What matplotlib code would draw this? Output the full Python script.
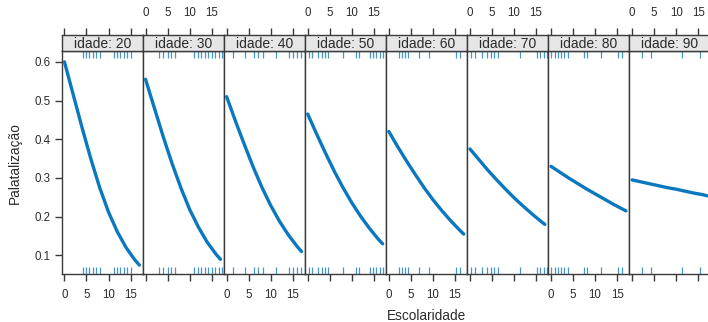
import matplotlib
matplotlib.use("Agg")
import matplotlib.pyplot as plt
import matplotlib.transforms as mtransforms

plt.rcParams['font.family'] = ['Liberation Sans', 'DejaVu Sans']

# ---------------- data ----------------
ages = [20, 30, 40, 50, 60, 70, 80, 90]
escol = [0, 2, 4, 6, 8, 10, 12, 14, 16, 17]
pal_20 = [0.600, 0.515, 0.430, 0.349, 0.275, 0.212, 0.161, 0.120, 0.088, 0.075]
pal_30 = [0.555, 0.481, 0.407, 0.338, 0.275, 0.219, 0.173, 0.134, 0.103, 0.090]
pal_40 = [0.510, 0.447, 0.387, 0.329, 0.276, 0.229, 0.188, 0.153, 0.123, 0.110]
pal_50 = [0.465, 0.414, 0.365, 0.318, 0.275, 0.236, 0.201, 0.170, 0.142, 0.130]
pal_60 = [0.420, 0.381, 0.344, 0.309, 0.275, 0.244, 0.216, 0.190, 0.166, 0.155]
pal_70 = [0.375, 0.348, 0.321, 0.296, 0.272, 0.249, 0.228, 0.208, 0.189, 0.180]
pal_80 = [0.330, 0.315, 0.300, 0.286, 0.272, 0.259, 0.246, 0.233, 0.221, 0.215]
pal_90 = [0.295, 0.290, 0.285, 0.280, 0.275, 0.271, 0.266, 0.261, 0.257, 0.254]
curves = [pal_20, pal_30, pal_40, pal_50, pal_60, pal_70, pal_80, pal_90]

rug_20 = [4.1, 4.9, 5.6, 6.4, 7.1, 8.0, 11.2, 12.0, 12.7, 13.5, 14.2, 15.0]
rug_30 = [3.1, 3.9, 5.0, 5.8, 6.6, 11.1, 11.9, 12.6, 13.4, 14.2, 15.0, 15.8, 16.6, 17.4]
rug_40 = [1.4, 4.2, 6.1, 7.2, 8.2, 11.2, 14.2, 15.1, 16.0, 16.9]
rug_50 = [0.2, 0.9, 2.4, 3.2, 3.9, 4.7, 8.0, 10.9, 11.7, 14.1, 14.8, 15.6, 16.3, 17.1]
rug_60 = [2.2, 2.9, 3.7, 4.4, 6.9, 9.2, 15.2, 16.1]
rug_70 = [0.3, 1.2, 2.8, 3.8, 4.7, 5.5, 6.3, 11.3, 15.2, 16.0, 16.8, 17.4]
rug_80 = [0.0, 0.8, 1.5, 2.3, 3.0, 3.8, 7.4, 8.2, 11.4, 15.1, 16.0]
rug_90 = [2.3, 4.3, 11.4, 15.3]
rugs = [rug_20, rug_30, rug_40, rug_50, rug_60, rug_70, rug_80, rug_90]

xticks = [0, 5, 10, 15]
yticks = [0.1, 0.2, 0.3, 0.4, 0.5, 0.6]
ytick_labels = ["0.1", "0.2", "0.3", "0.4", "0.5", "0.6"]

# ---------------- layout ----------------
W, H = 708, 322
fig = plt.figure(figsize=(W / 100, H / 100), dpi=100)

def rect(x0, y0, x1, y1):
    return [x0 / W, 1 - y1 / H, (x1 - x0) / W, (y1 - y0) / H]

frame_col = '#3a3a3a'
text_col = '#2b2b2b'
line_col = '#0a78bf'
rug_col = '#4a95c2'
strip_col = '#e6e6e6'

left0 = 61.7
pw = 81.1
p_top, p_bot = 51.0, 274.0
s_top = 34.5
xlim = (-0.62, 17.78)
ylim = (0.052, 0.628)

for i, age in enumerate(ages):
    x0 = left0 + i * pw
    x1 = x0 + pw
    ax = fig.add_axes(rect(x0, p_top, x1, p_bot))
    ax.set_xlim(*xlim)
    ax.set_ylim(*ylim)
    ax.plot(escol, curves[i], color=line_col, lw=2.4, solid_capstyle='round', zorder=3)
    trans = mtransforms.blended_transform_factory(ax.transData, ax.transAxes)
    rl = 7.0 / (p_bot - p_top)
    ax.vlines(rugs[i], 1 - rl, 1, transform=trans, color=rug_col, lw=0.9)
    ax.vlines(rugs[i], 0, rl, transform=trans, color=rug_col, lw=0.9)
    for sp in ax.spines.values():
        sp.set_color(frame_col)
        sp.set_linewidth(1.0)
    ax.set_xticks(xticks)
    ax.tick_params(axis='x', direction='out', length=5, width=1, color=frame_col,
                   labelsize=8.3, labelcolor=text_col, pad=6)
    if i % 2 == 0:
        ax.set_xticklabels([str(t) for t in xticks])
    else:
        ax.set_xticklabels([])
    if i == 0:
        ax.set_yticks(yticks)
        ax.set_yticklabels(ytick_labels)
        ax.tick_params(axis='y', direction='out', length=5, width=1, color=frame_col,
                       labelsize=8.3, labelcolor=text_col, pad=3)
    else:
        ax.set_yticks([])

    # strip
    sa = fig.add_axes(rect(x0, s_top, x1, p_top))
    sa.set_facecolor(strip_col)
    sa.set_xlim(*xlim)
    sa.set_ylim(0, 1)
    sa.set_yticks([])
    for sp in sa.spines.values():
        sp.set_color(frame_col)
        sp.set_linewidth(1.0)
    sa.xaxis.tick_top()
    sa.set_xticks(xticks)
    sa.tick_params(axis='x', direction='out', length=5, width=1, color=frame_col,
                   labelsize=8.3, labelcolor=text_col, pad=6)
    if i % 2 == 1:
        sa.set_xticklabels([str(t) for t in xticks])
    else:
        sa.set_xticklabels([])
    sa.text(0.5, 0.45, f"idade: {age}", transform=sa.transAxes, ha='center', va='center',
            fontsize=10, color=text_col)

fig.text(427 / W, 1 - 316 / H, "Escolaridade", ha='center', va='center',
         fontsize=9.8, color=text_col)
fig.text(15 / W, 1 - 163 / H, "Palatalização", ha='center', va='center',
         rotation=90, fontsize=9.8, color=text_col)

fig.savefig("out.png", dpi=100)
